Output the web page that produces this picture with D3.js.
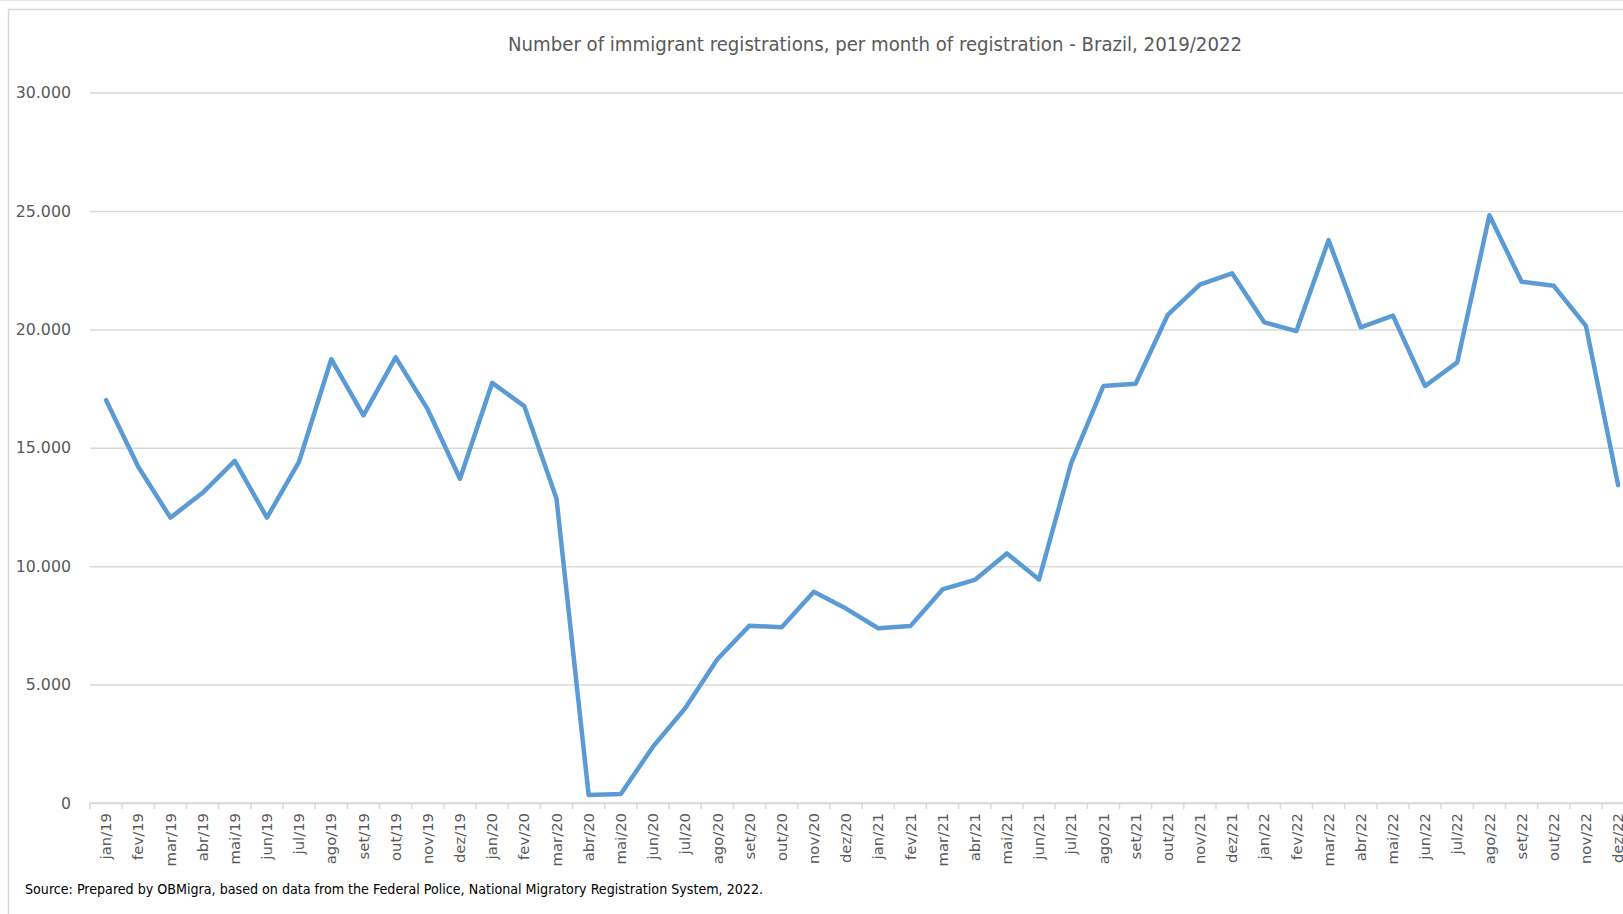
<!DOCTYPE html>
<html>
<head>
<meta charset="utf-8">
<script src="https://cdn.jsdelivr.net/npm/d3@7/dist/d3.min.js"></script>
<style>
  html, body { margin: 0; padding: 0; background: #fff; overflow: hidden; }
  svg { display: block; }
</style>
</head>
<body>
<svg id="chart" width="1623" height="914"></svg>
<script>
// ---- Data ----
const months = [
  "jan/19","fev/19","mar/19","abr/19","mai/19","jun/19","jul/19","ago/19","set/19","out/19","nov/19","dez/19",
  "jan/20","fev/20","mar/20","abr/20","mai/20","jun/20","jul/20","ago/20","set/20","out/20","nov/20","dez/20",
  "jan/21","fev/21","mar/21","abr/21","mai/21","jun/21","jul/21","ago/21","set/21","out/21","nov/21","dez/21",
  "jan/22","fev/22","mar/22","abr/22","mai/22","jun/22","jul/22","ago/22","set/22","out/22","nov/22","dez/22"
];
const registrations = [
  17010, 14200, 12050, 13100, 14450, 12050, 14420, 18740, 16370, 18820, 16620, 13690,
  17740, 16760, 12860, 340, 380, 2380, 4000, 6070, 7490, 7420, 8920, 8210,
  7380, 7470, 9020, 9420, 10540, 9440, 14350, 17610, 17700, 20610, 21890, 22370,
  20300, 19930, 23770, 20090, 20580, 17610, 18610, 24820, 22010, 21840, 20150, 13430
];
const yTicks = [0, 5000, 10000, 15000, 20000, 25000, 30000];
const titleText = "Number of immigrant registrations, per month of registration - Brazil, 2019/2022";
const sourceText = "Source: Prepared by OBMigra, based on data from the Federal Police, National Migratory Registration System, 2022.";

// ---- Layout ----
const svg = d3.select("#chart");
const W = 1623, H = 914;
const plotLeft = 90, plotRight = 1634.2, plotTop = 92.6, plotBottom = 803;
const gray = "#595959", gridColor = "#d9d9d9";

const ptBR = d3.formatLocale({ decimal: ",", thousands: ".", grouping: [3], currency: ["", ""] });
const fmt = ptBR.format(",d");

const x = d3.scaleBand().domain(months).range([plotLeft, plotRight]).padding(0);
const y = d3.scaleLinear().domain([0, 30000]).range([plotBottom, plotTop]);

// chart area border
svg.append("line").attr("x1", 0).attr("x2", W).attr("y1", 0.5).attr("y2", 0.5)
  .attr("stroke", "#e8e8e8").attr("stroke-width", 1);
svg.append("rect")
  .attr("x", 8.5).attr("y", 9.5).attr("width", W + 20).attr("height", H + 20)
  .attr("fill", "none").attr("stroke", gridColor).attr("stroke-width", 1.5);

// title
svg.append("text")
  .attr("x", 875).attr("y", 51)
  .attr("text-anchor", "middle")
  .attr("font-family", "'Liberation Sans Narrow', 'DejaVu Sans Condensed', 'Open Sans', sans-serif")
  .attr("font-size", 19.5)
  .attr("fill", gray)
  .attr("textLength", 734).attr("lengthAdjust", "spacingAndGlyphs")
  .text(titleText);

// gridlines (y axis with long ticks)
const yAxis = d3.axisLeft(y).tickValues(yTicks).tickFormat(fmt)
  .tickSize(-(W - plotLeft + 20)).tickPadding(19);
const gy = svg.append("g").attr("transform", `translate(${plotLeft},0)`).call(yAxis);
gy.select(".domain").remove();
gy.selectAll(".tick line").attr("stroke", gridColor).attr("stroke-width", 1.5);
gy.selectAll(".tick text")
  .attr("font-family", "'DejaVu Sans', Verdana, sans-serif")
  .attr("font-size", 15.8)
  .attr("fill", gray);

// x axis
const xAxis = d3.axisBottom(x).tickSize(0).tickPadding(0);
const gx = svg.append("g").attr("transform", `translate(0,${plotBottom})`).call(xAxis);
gx.select(".domain").remove();
gx.selectAll(".tick text")
  .attr("transform", "rotate(-90)")
  .attr("text-anchor", "end")
  .attr("x", -10).attr("y", 0).attr("dy", "0.35em")
  .attr("font-family", "'DejaVu Sans', Verdana, sans-serif")
  .attr("font-size", 14.8)
  .attr("fill", gray);

// axis baseline + category boundary ticks
svg.append("line")
  .attr("x1", plotLeft).attr("x2", W + 10)
  .attr("y1", y(0)).attr("y2", y(0))
  .attr("stroke", gridColor).attr("stroke-width", 1.5);
const boundaries = months.map(m => x(m)).concat([x(months[months.length - 1]) + x.bandwidth()]);
svg.append("g").selectAll("line").data(boundaries).join("line")
  .attr("x1", d => d).attr("x2", d => d)
  .attr("y1", y(0)).attr("y2", y(0) + 6)
  .attr("stroke", gridColor).attr("stroke-width", 1.5);

// data line
const line = d3.line()
  .x((d, i) => x(months[i]) + x.bandwidth() / 2)
  .y(d => y(d));
svg.append("path")
  .datum(registrations)
  .attr("d", line)
  .attr("fill", "none")
  .attr("stroke", "#5B9BD5")
  .attr("stroke-width", 4.5)
  .attr("stroke-linejoin", "round")
  .attr("stroke-linecap", "round");

// source note
svg.append("text")
  .attr("x", 25).attr("y", 894)
  .attr("font-family", "'Liberation Sans Narrow', 'DejaVu Sans Condensed', 'Open Sans', sans-serif")
  .attr("font-size", 14)
  .attr("fill", "#000")
  .attr("textLength", 738).attr("lengthAdjust", "spacingAndGlyphs")
  .text(sourceText);
</script>
</body>
</html>
